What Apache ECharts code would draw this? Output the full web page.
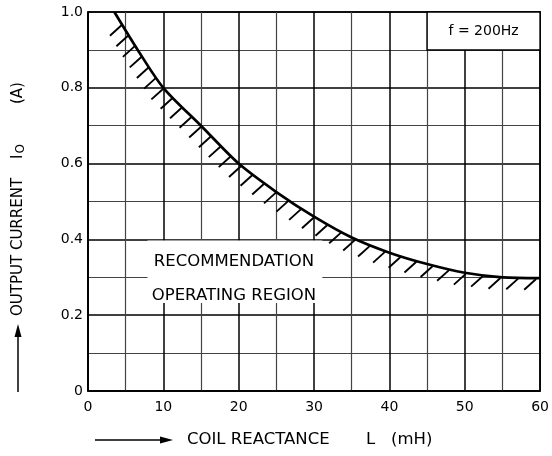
<!DOCTYPE html>
<html>
<head>
<meta charset="utf-8">
<script src="https://cdn.jsdelivr.net/npm/echarts@6/dist/echarts.min.js"></script>
<style>
html,body{margin:0;padding:0;background:#fff;}
#c{width:552px;height:456px;}
</style>
</head>
<body>
<div id="c"></div>
<script>
// ---- data ----
const curveX = [3.5, 6.6, 10, 15, 20, 25, 30, 35, 40, 45, 50, 55, 60];   // L (mH)
const curveY = [1.0, 0.9, 0.8, 0.7, 0.6, 0.525, 0.46, 0.405, 0.365, 0.335, 0.312, 0.300, 0.298]; // Io (A)
const xTicks = [0, 10, 20, 30, 40, 50, 60];
const yTicks = ['0', '0.2', '0.4', '0.6', '0.8', '1.0'];
const freqLabel = 'f = 200Hz';
const regionLines = ['RECOMMENDATION', 'OPERATING REGION'];
const freqBox = [[45, 1.0], [60, 0.9]];
const regionBox = [[7.9, 0.397], [31.1, 0.232]];

const FONT = 'DejaVu Sans';
const chart = echarts.init(document.getElementById('c'), null, {renderer: 'canvas'});

const option = {
  animation: false,
  backgroundColor: '#fff',
  textStyle: {fontFamily: FONT},
  grid: {left: 88, right: 7, top: 12, bottom: 65, show: true, borderColor: '#000', borderWidth: 1.6, backgroundColor: 'transparent'},
  xAxis: {
    type: 'value', min: xTicks[0], max: xTicks[xTicks.length - 1], interval: 10,
    axisLine: {show: true, lineStyle: {color: '#000', width: 1.6}},
    axisTick: {show: false},
    axisLabel: {color: '#000', fontSize: 14, fontFamily: FONT, margin: 9,
      formatter: v => xTicks.indexOf(v) >= 0 ? String(v) : ''},
    splitLine: {show: true, lineStyle: {color: '#000', width: 1.5}},
    minorTick: {show: false, splitNumber: 2},
    minorSplitLine: {show: true, lineStyle: {color: '#444', width: 1.2}}
  },
  yAxis: {
    type: 'value', min: 0, max: 1, interval: 0.2,
    axisLine: {show: true, lineStyle: {color: '#000', width: 1.6}},
    axisTick: {show: false},
    axisLabel: {color: '#000', fontSize: 14, fontFamily: FONT, margin: 5,
      formatter: v => yTicks[Math.round(v * 5)]},
    splitLine: {show: true, lineStyle: {color: '#000', width: 1.5}},
    minorTick: {show: false, splitNumber: 2},
    minorSplitLine: {show: true, lineStyle: {color: '#444', width: 1.2}}
  },
  graphic: [
    // x-axis title arrow
    {type: 'line', shape: {x1: 95, y1: 440, x2: 164, y2: 440}, style: {stroke: '#000', lineWidth: 1.5}},
    {type: 'polygon', shape: {points: [[173, 440], [160, 436.5], [160, 443.5]]}, style: {fill: '#000'}},
    {type: 'text', x: 187, y: 440, style: {text: 'COIL REACTANCE', fontSize: 16.5, fontFamily: FONT, fill: '#000', verticalAlign: 'middle', align: 'left'}},
    {type: 'text', x: 366, y: 440, style: {text: 'L', fontSize: 16.5, fontFamily: FONT, fill: '#000', verticalAlign: 'middle', align: 'left'}},
    {type: 'text', x: 391, y: 440, style: {text: '(mH)', fontSize: 16.5, fontFamily: FONT, fill: '#000', verticalAlign: 'middle', align: 'left'}},
    // y-axis title arrow
    {type: 'line', shape: {x1: 18, y1: 392, x2: 18, y2: 335}, style: {stroke: '#000', lineWidth: 1.5}},
    {type: 'polygon', shape: {points: [[18, 324], [14.5, 337], [21.5, 337]]}, style: {fill: '#000'}},
    {type: 'text', x: 18, y: 316, rotation: Math.PI / 2, style: {text: 'OUTPUT CURRENT', fontSize: 15, fontFamily: FONT, fill: '#000', verticalAlign: 'middle', align: 'left'}},
    {type: 'text', x: 18, y: 159, rotation: Math.PI / 2, style: {
      text: '{a|I}{s|O}', verticalAlign: 'middle', align: 'left',
      rich: {a: {fontSize: 15, fontFamily: FONT, fill: '#000', verticalAlign: 'middle'},
             s: {fontSize: 12, fontFamily: FONT, fill: '#000', padding: [5, 0, 0, 1], verticalAlign: 'bottom'}}}},
    {type: 'text', x: 18, y: 104, rotation: Math.PI / 2, style: {text: '(A)', fontSize: 15, fontFamily: FONT, fill: '#000', verticalAlign: 'middle', align: 'left'}}
  ],
  series: [
    {
      type: 'line', data: curveX.map((x, i) => [x, curveY[i]]),
      smooth: 0.3, showSymbol: false, symbol: 'none',
      lineStyle: {color: '#000', width: 2.7}, z: 5, silent: true,
      markArea: {
        silent: true,
        data: [
          [{xAxis: freqBox[0][0], yAxis: freqBox[0][1],
            itemStyle: {color: '#fff', borderColor: '#000', borderWidth: 1.5},
            label: {show: true, position: 'inside', formatter: freqLabel, color: '#000', fontSize: 14, fontFamily: FONT}},
           {xAxis: freqBox[1][0], yAxis: freqBox[1][1]}],
          [{xAxis: regionBox[0][0], yAxis: regionBox[0][1],
            itemStyle: {color: '#fff', borderWidth: 0},
            label: {show: true, position: 'inside', formatter: regionLines.join('\n'), color: '#000', fontSize: 16.5, fontFamily: FONT, lineHeight: 34, align: 'center', offset: [-1, 7]}},
           {xAxis: regionBox[1][0], yAxis: regionBox[1][1]}]
        ]
      }
    },
    {
      type: 'custom', coordinateSystem: 'cartesian2d', data: [[0, 0]], silent: true, z: 4,
      renderItem: function (params, api) {
        const pts = curveX.map((x, i) => api.coord([x, curveY[i]]));
        const cum = [0];
        for (let i = 1; i < pts.length; i++) {
          cum.push(cum[i - 1] + Math.hypot(pts[i][0] - pts[i - 1][0], pts[i][1] - pts[i - 1][1]));
        }
        const total = cum[cum.length - 1];
        const ang = 42 * Math.PI / 180, len = 16;
        const children = [];
        let s = total - 4;
        while (s >= 8) {
          let k = 1;
          while (k < cum.length - 1 && cum[k] < s) k++;
          const t = (s - cum[k - 1]) / (cum[k] - cum[k - 1]);
          const px = pts[k - 1][0] + t * (pts[k][0] - pts[k - 1][0]);
          const py = pts[k - 1][1] + t * (pts[k][1] - pts[k - 1][1]);
          children.push({type: 'line', shape: {x1: px, y1: py + 1, x2: px - len * Math.cos(ang), y2: py + 1 + len * Math.sin(ang)},
            style: {stroke: '#000', lineWidth: 1.9}});
          s -= 12 + 6 * (s / total);
        }
        return {type: 'group', children: children};
      }
    }
  ]
};
chart.setOption(option);
</script>
</body>
</html>
